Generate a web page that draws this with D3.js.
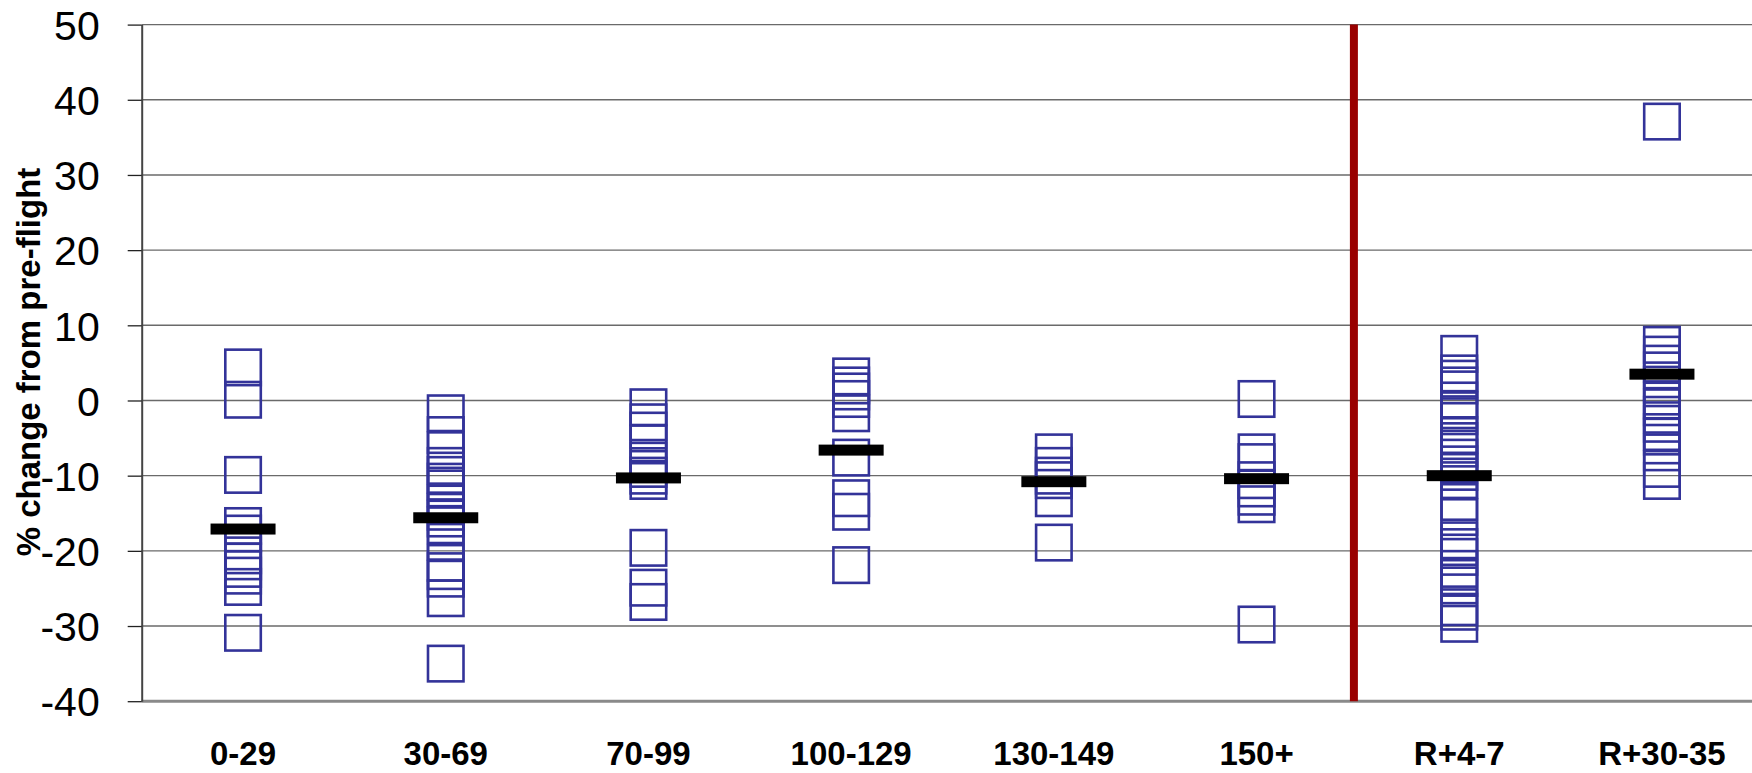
<!DOCTYPE html>
<html>
<head>
<meta charset="utf-8">
<script src="https://cdn.jsdelivr.net/npm/d3@7"></script>
<style>
  html, body { margin: 0; padding: 0; background: #ffffff; }
  svg { display: block; }
  text { font-family: "Liberation Sans", Arial, sans-serif; }
</style>
</head>
<body>
<svg id="chart" width="1752" height="773"></svg>
<script>
// ---------------- data ----------------
const categories = ["0-29", "30-69", "70-99", "100-129", "130-149", "150+", "R+4-7", "R+30-35"];

const vals_0_29    = [4.4, 0.1, -9.9, -16.7, -17.7, -20.6, -21.4, -22.4, -23.3, -24.8, -30.9];
const vals_30_69   = [-1.7, -4.6, -6.6, -8.7, -9.9, -10.8, -11.7, -13.7, -14.8, -15.7, -16.6, -18.8, -21.6, -22.7, -23.7, -26.3, -35.0];
const vals_70_99   = [-0.9, -2.9, -4.0, -5.7, -8.0, -9.1, -10.0, -10.7, -19.6, -24.9, -26.8];
const vals_100_129 = [3.2, 2.0, 1.2, 0.2, -1.7, -7.6, -13.0, -14.8, -21.9];
const vals_130_149 = [-6.9, -8.7, -10.0, -10.6, -13.0, -18.9];
const vals_150p    = [0.2, -6.9, -8.2, -10.6, -11.7, -12.8, -13.8, -29.8];
const vals_R4_7    = [6.2, 3.6, 2.9, 2.0, 0.0, -1.3, -2.1, -4.6, -5.4, -6.4, -7.6, -8.5, -9.5, -10.6, -13.5, -15.5, -18.6, -19.5, -20.8, -22.4, -23.6, -24.6, -27.5, -28.1, -29.7];
const vals_R30_35  = [37.1, 7.4, 6.1, 4.9, 4.0, 2.1, 0.0, -0.9, -1.9, -3.1, -4.2, -4.8, -6.9, -9.1, -10.7];

const means = [-17.1, -15.6, -10.3, -6.6, -10.8, -10.4, -10.0, 3.5];

const yTicks = [50, 40, 30, 20, 10, 0, -10, -20, -30, -40];
const yDomain = [-40, 50];
const dividerAfter = "150+";
const yTitle = "% change from pre-flight";

const seriesByCategory = [vals_0_29, vals_30_69, vals_70_99, vals_100_129, vals_130_149, vals_150p, vals_R4_7, vals_R30_35];

// ---------------- layout ----------------
(function () {
const svg = d3.select("#chart");
const plotLeft = 141.7, plotTop = 24.6, plotBottom = 701.2, plotRight = 1752;
const bandW = 202.7;

const x = d3.scaleBand().domain(categories).range([plotLeft, plotLeft + bandW * categories.length]).paddingInner(0).paddingOuter(0);
const y = d3.scaleLinear().domain(yDomain).range([plotBottom, plotTop]);

// gridlines
svg.append("g").selectAll("line")
  .data(yTicks.filter(v => v !== yDomain[0]))
  .join("line")
  .attr("x1", plotLeft).attr("x2", plotRight)
  .attr("y1", d => y(d)).attr("y2", d => y(d))
  .attr("stroke", "#6a6a6a").attr("stroke-width", 1.4);

// bottom axis line (at -40)
svg.append("line")
  .attr("x1", plotLeft).attr("x2", plotRight)
  .attr("y1", y(yDomain[0])).attr("y2", y(yDomain[0]))
  .attr("stroke", "#8a8a8a").attr("stroke-width", 3);

// y axis
const yAxis = svg.append("g")
  .attr("transform", `translate(${plotLeft},0)`)
  .call(d3.axisLeft(y).tickValues(yTicks).tickSize(14).tickSizeOuter(0).tickPadding(28).tickFormat(d => String(d)));
yAxis.select(".domain").attr("stroke", "#444").attr("stroke-width", 2);
yAxis.selectAll(".tick line").attr("stroke", "#222").attr("stroke-width", 1.3);
yAxis.selectAll(".tick text")
  .attr("font-size", 41).attr("fill", "#000")
  .attr("font-family", "'Liberation Sans', Arial, sans-serif")
  .attr("dy", "0.36em");

// x axis labels
const xAxis = svg.append("g")
  .attr("transform", `translate(0,${plotBottom})`)
  .call(d3.axisBottom(x).tickSize(0).tickPadding(0));
xAxis.select(".domain").remove();
xAxis.selectAll(".tick text")
  .attr("font-size", 33).attr("font-weight", "bold").attr("fill", "#000")
  .attr("font-family", "'Liberation Sans', Arial, sans-serif")
  .attr("y", 64).attr("dy", 0);

// y title
svg.append("text")
  .attr("transform", `translate(40,${(165 + 559) / 2}) rotate(-90)`)
  .attr("text-anchor", "middle")
  .attr("font-size", 33).attr("font-weight", "bold")
  .attr("fill", "#000")
  .text(yTitle);

// red divider
const divX = x(dividerAfter) + x.bandwidth() - 4;
svg.append("line")
  .attr("x1", divX).attr("x2", divX)
  .attr("y1", y(yDomain[1])).attr("y2", y(yDomain[0]))
  .attr("stroke", "#990000").attr("stroke-width", 8);

// square markers
const pts = [];
seriesByCategory.forEach((arr, i) => arr.forEach(v => pts.push({ cat: categories[i], v })));
const sq = 35.5;
svg.append("g").selectAll("rect")
  .data(pts)
  .join("rect")
  .attr("x", d => x(d.cat) + x.bandwidth() / 2 - sq / 2)
  .attr("y", d => y(d.v) - sq / 2)
  .attr("width", sq).attr("height", sq)
  .attr("fill", "none")
  .attr("stroke", "#333399")
  .attr("stroke-width", 2.6);

// mean bars
const mw = 65, mh = 11;
svg.append("g").selectAll("rect")
  .data(means.map((m, i) => ({ cat: categories[i], m })))
  .join("rect")
  .attr("x", d => x(d.cat) + x.bandwidth() / 2 - mw / 2)
  .attr("y", d => y(d.m) - mh / 2)
  .attr("width", mw).attr("height", mh)
  .attr("fill", "#000");
})();
</script>
</body>
</html>
